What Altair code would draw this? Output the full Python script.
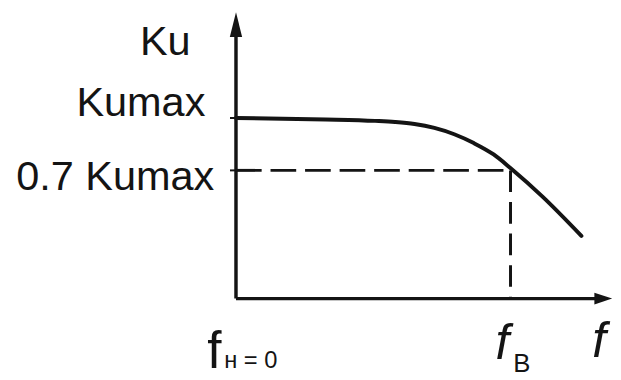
import altair as alt
import pandas as pd

# ---- data (f in arbitrary units, Ku relative to Kumax) ----
curve_f = [0.0, 2.39, 3.71, 4.24, 4.76, 5.29, 5.82, 6.34, 6.87, 7.34, 8.18, 9.21]
curve_k = [1.0, 0.992, 0.984, 0.978, 0.967, 0.945, 0.910, 0.861, 0.798, 0.719, 0.563, 0.347]
k_max = 1.0
k_07 = 0.71          # drawn level of 0.7 Kumax
f_b = 7.32           # upper cut-off frequency
x_tip = 10.03        # end of the f axis (arrow tip)
y_tip = 1.585        # end of the Ku axis (arrow tip)

left_labels = ["Ku", "Kumax", "0.7 Kumax"]
left_label_x = [-1.21, -0.816, -0.579]
left_label_y = [1.35, 1.011, 0.601]

# ---- layout ----
W, H = 613, 372
PX_F, PX_K = 38.0, 183.0
ORIGIN_X, ORIGIN_Y = 231.0, 292.0
x_dom = [-ORIGIN_X / PX_F, (W - ORIGIN_X) / PX_F]
y_dom = [-(H - ORIGIN_Y) / PX_K, ORIGIN_Y / PX_K]
X = lambda: alt.X("x:Q", scale=alt.Scale(domain=x_dom, nice=False, zero=False), axis=None)
Y = lambda: alt.Y("y:Q", scale=alt.Scale(domain=y_dom, nice=False, zero=False), axis=None)
INK = "#141414"
FONT = "Liberation Sans"

curve = alt.Chart(pd.DataFrame({"x": curve_f, "y": curve_k})).mark_line(
    color=INK, strokeWidth=4, interpolate="monotone", strokeCap="round"
).encode(x=X(), y=Y())

axes_df = pd.DataFrame({
    "x": [0.0, 0.0], "y": [0.0, 0.0],
    "x2": [x_tip - 12 / PX_F, 0.0], "y2": [0.0, y_tip - 18 / PX_K],
})
axes = alt.Chart(axes_df).mark_rule(color=INK, strokeWidth=3.5).encode(
    x=X(), y=Y(), x2="x2:Q", y2="y2:Q")

ticks_df = pd.DataFrame({"x": [-0.16, -0.16], "y": [k_max, k_07], "x2": [0.0, 0.0]})
ticks = alt.Chart(ticks_df).mark_rule(color=INK, strokeWidth=2).encode(
    x=X(), y=Y(), x2="x2:Q")

hdash = alt.Chart(pd.DataFrame({"x": [0.0], "y": [k_07], "x2": [f_b]})).mark_rule(
    color=INK, strokeWidth=3, strokeDash=[26, 9]).encode(x=X(), y=Y(), x2="x2:Q")
vdash = alt.Chart(pd.DataFrame({"x": [f_b], "y": [k_07], "y2": [0.0]})).mark_rule(
    color=INK, strokeWidth=3, strokeDash=[22, 10]).encode(x=X(), y=Y(), y2="y2:Q")

arrow_up = alt.Chart(pd.DataFrame({"x": [0.0], "y": [y_tip - 12.5 / PX_K]})).mark_point(
    shape="M0,-1L0.5,1L-0.5,1Z", size=625, filled=True, opacity=1, color=INK, strokeWidth=0
).encode(x=X(), y=Y())
arrow_right = alt.Chart(pd.DataFrame({"x": [x_tip - 9 / PX_F], "y": [0.0]})).mark_point(
    shape="M1,0L-1,0.65L-1,-0.65Z", size=324, filled=True, opacity=1, color=INK, strokeWidth=0
).encode(x=X(), y=Y())

def text_layer(texts, xs, ys, **kw):
    df = pd.DataFrame({"t": texts, "x": xs, "y": ys})
    return alt.Chart(df).mark_text(font=FONT, color=INK, baseline="alphabetic", **kw).encode(
        x=X(), y=Y(), text="t:N")

lab_left = text_layer(left_labels, left_label_x, left_label_y, align="right", fontSize=42)
lab_f0 = text_layer(["f"], [-0.763], [-0.383], align="left", fontSize=52)
lab_f0_sub = text_layer(["н = 0"], [-0.316], [-0.383], align="left", fontSize=24)
lab_fit = text_layer(["f", "f"], [6.92, 9.5], [-0.333, -0.322], align="left",
                     fontSize=50, fontStyle="italic")
lab_b = text_layer(["B"], [7.39], [-0.404], align="left", fontSize=26)

chart = alt.layer(
    hdash, vdash, axes, ticks, curve, arrow_up, arrow_right,
    lab_left, lab_f0, lab_f0_sub, lab_fit, lab_b
).properties(width=W, height=H, padding=0, autosize="none", background="white"
).configure_view(strokeWidth=0)

chart.save("out.html", embed_options={"renderer": "svg", "actions": False})
